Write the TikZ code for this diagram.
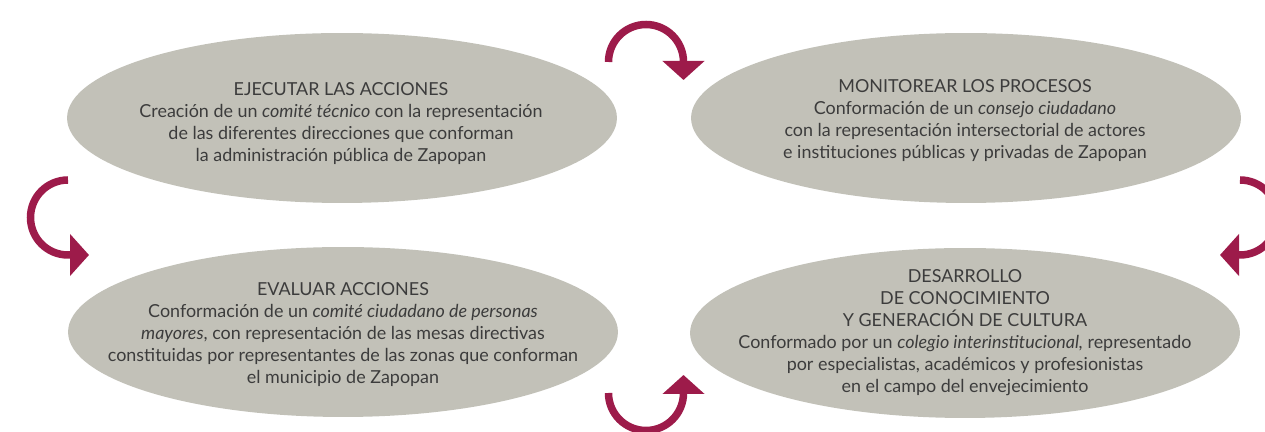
\documentclass[tikz,border=0pt]{standalone}
\usepackage{fontspec}
\setmainfont{Lato}
\usepackage{tikz}
\usetikzlibrary{shapes.geometric,arrows.meta}
\definecolor{stagegray}{HTML}{C2C1B8}
\definecolor{turnred}{HTML}{9D1B4A}
\definecolor{textgray}{HTML}{3C3C3C}
\tikzset{
    stage/.style={ellipse,fill=stagegray,minimum width=11cm,minimum height=3.4cm,inner sep=0pt},
    stagetext/.style={align=center,text=textgray,font=\fontsize{10.2}{12.5}\selectfont},
    turn/.style={turnred,line width=0.15cm,-{Triangle[width=0.82cm,length=0.38cm]}}
}
\begin{document}
\begin{tikzpicture}[x=0.02cm,y=0.02cm]
    \useasboundingbox (0,0) rectangle (1265,432);
    \clip (0,0) rectangle (1265,432);
    \node[stage] (ejecutar) at (342,314) {};
    \node[stage] (monitorear) at (966,314) {};
    \node[stage] (evaluar) at (343,100) {};
    \node[stage] (desarrollo) at (965,99) {};
    \node[stagetext] (ejecutar-txt) at (341,308.5) {EJECUTAR LAS ACCIONES\\
        Creación de un \textit{comité técnico} con la representación\\
        de las diferentes direcciones que conforman\\
        la administración pública de Zapopan};
    \node[stagetext] (monitorear-txt) at (965,311.5) {MONITOREAR LOS PROCESOS\\
        Conformación de un \textit{consejo ciudadano}\\
        con la representación intersectorial de actores\\
        e instituciones públicas y privadas de Zapopan};
    \node[stagetext] (evaluar-txt) at (343,97.5) {EVALUAR ACCIONES\\
        Conformación de un \textit{comité ciudadano de personas}\\
        \textit{mayores}, con representación de las mesas directivas\\
        constituidas por representantes de las zonas que conforman\\
        el municipio de Zapopan};
    \node[stagetext] (desarrollo-txt) at (965,99.5) {DESARROLLO\\
        DE CONOCIMIENTO\\
        Y GENERACIÓN DE CULTURA\\
        Conformado por un \textit{colegio interinstitucional,} representado\\
        por especialistas, académicos y profesionistas\\
        en el campo del envejecimiento};
    \coordinate (giro-arriba) at (646,370);
    \coordinate (giro-izq) at (68,214.5);
    \coordinate (giro-der) at (1240,214.5);
    \coordinate (giro-abajo) at (646,39);
    \draw[turn] ([shift={(180:37.5)}]giro-arriba) arc (180:0:37.5) -- ++(0,-18);
    \draw[turn] ([shift={(90:37.5)}]giro-der) arc (90:-90:37.5) -- ++(-20,0);
    \draw[turn] ([shift={(180:37.5)}]giro-abajo) arc (180:360:37.5) -- ++(0,18);
    \draw[turn] ([shift={(90:37.5)}]giro-izq) arc (90:270:37.5) -- ++(21,0);
\end{tikzpicture}
\end{document}
